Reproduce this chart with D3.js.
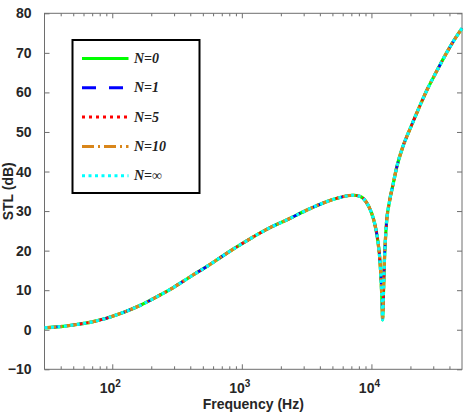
<!DOCTYPE html>
<html>
<head>
<meta charset="utf-8">
<script src="https://d3js.org/d3.v7.min.js"></script>
<style>
  body { margin: 0; background: #fff; }
  svg { display: block; }
</style>
</head>
<body>
<svg id="chart" width="467" height="412"></svg>
<script>
// Frequency samples (Hz)
const freq = [30, 40, 50, 70, 90, 120, 165, 220, 300, 400, 550, 700, 900, 1200, 1650,
  2300, 3150, 4200, 5500, 7200, 8200, 9100, 10000, 10600, 11200, 11600, 11900, 12100,
  12200, 12350, 12600, 13000, 13800, 14700, 15600, 17500, 20000, 23500, 27000, 31700,
  38000, 44000, 50000];

// STL (dB) - all five curves lie on top of each other
const stl = [0.5, 0.8, 1.2, 2.0, 2.9, 4.3, 6.2, 8.3, 10.8, 13.4, 16.2, 18.5, 20.8, 23.3, 25.8,
  28.0, 30.2, 32.0, 33.3, 34.0, 33.7, 32.3, 29.6, 26.8, 22.5, 18.0, 12.0, 6.0,
  2.5, 8.0, 17.5, 26.0, 32.5, 36.8, 40.8, 46.3, 51.0, 56.4, 60.8, 65.2,
  70.0, 73.5, 76.2];

const seriesNames = ["N=0", "N=1", "N=5", "N=10", "N=\u221E"];
const seriesValues = [stl, stl, stl, stl, stl];

const yTicks = [-10, 0, 10, 20, 30, 40, 50, 60, 70, 80];
const xTicks = [100, 1000, 10000];
const xTickExp = ["2", "3", "4"];

// styles for each series
const styles = [
  { color: "#00ff00", dash: null, width: 3.2 },
  { color: "#0000ff", dash: "14,13", width: 2.6 },
  { color: "#ff0000", dash: "3,4", width: 2.6 },
  { color: "#d9861a", dash: "12,4,2,4", width: 3.2 },
  { color: "#00ffff", dash: "3,3.5", width: 3.2 }
];

const svg = d3.select("#chart");
const m = { left: 44.5, right: 462, top: 13.3, bottom: 369.3 };

const x = d3.scaleLog().domain([30, 50000]).range([m.left, m.right]);
const y = d3.scaleLinear().domain([-10, 80]).range([m.bottom, m.top]);

const axisColor = "#6e6e6e";
const textColor = "#262626";
const font = "'Liberation Sans', Arial, sans-serif";

// minor x ticks
const minorX = [];
for (let e = 1; e <= 4; e++) {
  for (let k = 2; k <= 9; k++) {
    const v = k * Math.pow(10, e);
    if (v > 30 && v < 50000) minorX.push(v);
  }
}

function styleAxis(g) {
  g.select(".domain").remove();
  g.selectAll("line").attr("stroke", axisColor).attr("stroke-width", 1);
  g.selectAll("text").attr("fill", textColor)
    .style("font-family", font)
    .style("font-weight", "bold").style("font-size", "14px");
}

// bottom
svg.append("g").attr("transform", `translate(0,${m.bottom})`)
  .call(d3.axisBottom(x).tickValues(minorX).tickSize(-3).tickFormat(""))
  .call(styleAxis);
svg.append("g").attr("transform", `translate(0,${m.bottom})`)
  .call(d3.axisBottom(x).tickValues(xTicks).tickSize(-5).tickFormat(""))
  .call(styleAxis);
// top
svg.append("g").attr("transform", `translate(0,${m.top})`)
  .call(d3.axisTop(x).tickValues(minorX).tickSize(-3).tickFormat(""))
  .call(styleAxis);
svg.append("g").attr("transform", `translate(0,${m.top})`)
  .call(d3.axisTop(x).tickValues(xTicks).tickSize(-5).tickFormat(""))
  .call(styleAxis);
// left / right
svg.append("g").attr("transform", `translate(${m.left},0)`)
  .call(d3.axisLeft(y).tickValues(yTicks).tickSize(-5).tickPadding(13))
  .call(styleAxis);
svg.append("g").attr("transform", `translate(${m.right},0)`)
  .call(d3.axisRight(y).tickValues(yTicks).tickSize(-5).tickFormat(""))
  .call(styleAxis);

// x tick labels with exponent
xTicks.forEach((v, i) => {
  const t = svg.append("text")
    .attr("x", x(v) - 2)
    .attr("y", m.bottom + 24)
    .attr("text-anchor", "middle")
    .attr("fill", textColor)
    .style("font-family", font)
    .style("font-weight", "bold")
    .style("font-size", "14px");
  t.append("tspan").text("10");
  t.append("tspan").attr("dy", -6).style("font-size", "10px").text(xTickExp[i]);
});

// frame
svg.append("rect")
  .attr("x", m.left).attr("y", m.top)
  .attr("width", m.right - m.left).attr("height", m.bottom - m.top)
  .attr("fill", "none").attr("stroke", axisColor).attr("stroke-width", 1);

// axis titles
svg.append("text")
  .attr("x", (m.left + m.right) / 2).attr("y", 409)
  .attr("text-anchor", "middle").attr("fill", textColor)
  .style("font-family", font)
  .style("font-weight", "bold").style("font-size", "14px")
  .text("Frequency (Hz)");

svg.append("text")
  .attr("transform", `translate(13,${(m.top + m.bottom) / 2}) rotate(-90)`)
  .attr("text-anchor", "middle").attr("fill", textColor)
  .style("font-family", font)
  .style("font-weight", "bold").style("font-size", "14px")
  .text("STL (dB)");

// curves
const line = d3.line()
  .x(d => x(d[0]))
  .y(d => y(d[1]))
  .curve(d3.curveMonotoneX);

const plot = svg.append("g");
seriesValues.forEach((vals, i) => {
  const pts = freq.map((f, k) => [f, vals[k]]);
  plot.append("path")
    .datum(pts)
    .attr("d", line)
    .attr("fill", "none")
    .attr("stroke", styles[i].color)
    .attr("stroke-width", styles[i].width)
    .attr("stroke-dasharray", styles[i].dash);
});

// legend
const lg = svg.append("g");
lg.append("rect")
  .attr("x", 72.5).attr("y", 40)
  .attr("width", 127).attr("height", 153)
  .attr("fill", "#fff").attr("stroke", "#000").attr("stroke-width", 2);

seriesNames.forEach((name, i) => {
  const ly = 58.5 + i * 29.3;
  lg.append("line")
    .attr("x1", 82).attr("x2", 128.5)
    .attr("y1", ly).attr("y2", ly)
    .attr("stroke", styles[i].color)
    .attr("stroke-width", 3)
    .attr("stroke-dasharray", styles[i].dash);
  lg.append("text")
    .attr("x", 134).attr("y", ly + 4.5)
    .attr("fill", "#222")
    .style("font-family", "'Liberation Serif', 'Times New Roman', serif")
    .style("font-weight", "bold").style("font-style", "italic")
    .style("font-size", "14px")
    .text(name);
});
</script>
</body>
</html>
